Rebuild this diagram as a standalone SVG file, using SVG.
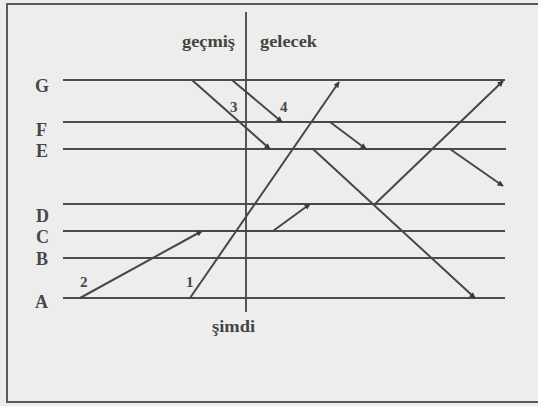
<svg xmlns="http://www.w3.org/2000/svg" width="538" height="406" viewBox="0 0 538 406">
<style>
.bg{fill:#edeeeb}
.frame{fill:none;stroke:#5a5a5a;stroke-width:2}
.tl{stroke:#4c4c4c;stroke-width:2;fill:none}
.ax{stroke:#555;stroke-width:2;fill:none}
.cn{stroke:#474747;stroke-width:2;fill:none;stroke-linejoin:round}
.lbl{font-family:"Liberation Serif","DejaVu Serif",serif;font-size:18px;font-weight:bold;fill:#474747}
.num{font-family:"Liberation Serif","DejaVu Serif",serif;font-size:15px;font-weight:bold;fill:#474747}
.hd{font-family:"Liberation Serif","DejaVu Serif",serif;font-size:16px;font-weight:bold;fill:#444}
</style>
<defs>
<marker id="ah" viewBox="0 0 10 10" refX="9" refY="5" markerWidth="7" markerHeight="6" markerUnits="userSpaceOnUse" orient="auto">
<path d="M0,0 L10,5 L0,10 z" fill="#3a3a3a"/>
</marker>
</defs>
<rect class="bg" x="0" y="0" width="538" height="406"/>
<rect class="frame" x="7" y="4" width="540" height="398"/>

<g id="axis">
<line class="ax" x1="246" y1="12" x2="246" y2="312"/>
<text class="hd" x="235" y="47" text-anchor="end" textLength="53" lengthAdjust="spacingAndGlyphs">geçmiş</text>
<text class="hd" x="260" y="47" textLength="57" lengthAdjust="spacingAndGlyphs">gelecek</text>
<text class="hd" x="212" y="332" textLength="43" lengthAdjust="spacingAndGlyphs">şimdi</text>
</g>

<g id="line-G"><line class="tl" x1="63" y1="80" x2="505" y2="80"/><text class="lbl" x="35" y="92">G</text></g>
<g id="line-F"><line class="tl" x1="63" y1="122" x2="506" y2="122"/><text class="lbl" x="36" y="136">F</text></g>
<g id="line-E"><line class="tl" x1="63" y1="149" x2="506" y2="149"/><text class="lbl" x="36" y="157">E</text></g>
<g id="line-D"><line class="tl" x1="63" y1="204" x2="505" y2="204"/><text class="lbl" x="36" y="222">D</text></g>
<g id="line-C"><line class="tl" x1="63" y1="231" x2="505" y2="231"/><text class="lbl" x="36" y="243">C</text></g>
<g id="line-B"><line class="tl" x1="63" y1="258" x2="505" y2="258"/><text class="lbl" x="36" y="265">B</text></g>
<g id="line-A"><line class="tl" x1="63" y1="298" x2="505" y2="298"/><text class="lbl" x="35" y="308">A</text></g>

<g id="connectors">
<path class="cn" d="M190,298 L339,82" marker-end="url(#ah)"/>
<path class="cn" d="M80,298 L202,231" marker-end="url(#ah)"/>
<path class="cn" d="M202,231 L273,231 L310,204" marker-end="url(#ah)"/>
<path class="cn" d="M310,204 L375,204 L503,81" marker-end="url(#ah)"/>
<path class="cn" d="M192,80 L270,149" marker-end="url(#ah)"/>
<path class="cn" d="M270,149 L313,149 L475,298" marker-end="url(#ah)"/>
<path class="cn" d="M232,80 L282,122" marker-end="url(#ah)"/>
<path class="cn" d="M282,122 L330,122 L366,149" marker-end="url(#ah)"/>
<path class="cn" d="M366,149 L450,149 L503,186" marker-end="url(#ah)"/>
</g>

<g id="labels">
<text class="num" x="186" y="287">1</text>
<text class="num" x="80" y="287">2</text>
<text class="num" x="230" y="112">3</text>
<text class="num" x="280" y="112">4</text>
</g>
</svg>
